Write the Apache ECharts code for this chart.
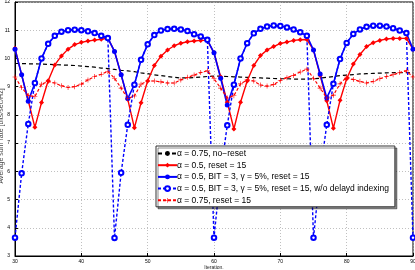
<!DOCTYPE html>
<html>
<head>
<meta charset="utf-8">
<script src="https://cdn.jsdelivr.net/npm/echarts@6/dist/echarts.min.js"></script>
<style>
html,body{margin:0;padding:0;background:#fff;}
#c{width:415px;height:270px;}
</style>
</head>
<body>
<div id="c"></div>
<script>
var iterations = [30,31,32,33,34,35,36,37,38,39,40,41,42,43,44,45,46,47,48,49,50,51,52,53,54,55,56,57,58,59,60,61,62,63,64,65,66,67,68,69,70,71,72,73,74,75,76,77,78,79,80,81,82,83,84,85,86,87,88,89,90];

var noReset = [9.82,9.82,9.81,9.81,9.80,9.79,9.78,9.77,9.76,9.75,9.73,9.71,9.69,9.66,9.64,9.61,9.58,9.56,9.53,9.49,9.46,9.42,9.39,9.36,9.33,9.31,9.31,9.32,9.34,9.36,9.37,9.37,9.36,9.35,9.34,9.33,9.32,9.31,9.30,9.29,9.28,9.28,9.27,9.27,9.27,9.28,9.30,9.33,9.36,9.39,9.41,9.43,9.45,9.46,9.47,9.48,9.49,9.50,9.50,9.50,9.50];

var reset15 = [10.36,9.42,8.50,7.56,8.44,9.21,9.77,10.09,10.33,10.49,10.57,10.62,10.65,10.68,10.72,
  10.25,9.42,8.55,7.54,8.43,9.20,9.75,10.08,10.30,10.45,10.54,10.59,10.62,10.64,10.64,
  10.20,9.35,8.45,7.50,8.45,9.20,9.75,10.10,10.30,10.42,10.53,10.58,10.64,10.66,10.67,
  10.30,9.40,8.50,7.53,8.52,9.28,9.80,10.14,10.42,10.56,10.64,10.69,10.71,10.71,10.71,
  10.33];

var bit3 = [10.33,9.42,8.48,9.13,10.00,10.52,10.80,10.95,11.00,11.02,11.00,10.96,10.90,10.80,10.72,
  10.25,9.42,8.58,9.07,9.95,10.50,10.83,10.99,11.04,11.05,11.03,10.97,10.86,10.78,10.66,
  10.20,9.30,8.35,9.07,10.00,10.54,10.89,11.05,11.13,11.17,11.15,11.10,11.03,10.93,10.80,
  10.30,9.45,8.60,9.10,9.98,10.55,10.87,11.03,11.12,11.16,11.16,11.13,11.07,10.99,10.90,
  10.33];

var bit3NoDelay = [3.65,5.93,7.68,9.13,10.00,10.52,10.80,10.95,11.00,11.02,11.00,10.96,10.90,10.80,10.72,
  3.64,5.95,7.65,9.07,9.95,10.50,10.83,10.99,11.04,11.05,11.03,10.97,10.86,10.78,10.66,
  3.65,5.95,7.63,9.07,10.00,10.54,10.89,11.05,11.13,11.17,11.15,11.10,11.03,10.93,10.80,
  3.65,5.95,7.65,9.10,9.98,10.55,10.87,11.03,11.12,11.16,11.16,11.13,11.07,10.99,10.90,
  3.65];

var reset15a75 = [9.34,8.97,8.69,8.65,9.09,9.18,9.13,9.03,8.97,9.00,9.09,9.24,9.36,9.44,9.54,
  9.30,8.95,8.58,8.67,9.09,9.20,9.20,9.17,9.13,9.13,9.24,9.33,9.41,9.50,9.56,
  9.28,8.95,8.60,8.68,9.10,9.24,9.20,9.06,9.02,9.08,9.22,9.32,9.40,9.52,9.62,
  9.30,8.95,8.60,8.70,9.10,9.34,9.25,9.19,9.13,9.19,9.28,9.36,9.42,9.50,9.56,
  9.34];

var seriesNames = [
  'α = 0.75, no−reset',
  'α = 0.5, reset = 15',
  'α = 0.5, BIT = 3, γ = 5%, reset = 15',
  'α = 0.5, BIT = 3, γ = 5%, reset = 15, w/o delayd indexing',
  'α = 0.75, reset = 15'
];

function pairs(vals){ return iterations.map(function(x,i){ return [x, vals[i]]; }); }

var plusPath = 'path://M0,4.4L10,4.4L10,5.6L0,5.6Z M4.4,0L5.6,0L5.6,10L4.4,10Z';

var chart = echarts.init(document.getElementById('c'), null, {renderer:'canvas'});
var F = 'Liberation Sans, Arial, Helvetica, sans-serif';
chart.setOption({
  animation:false,
  backgroundColor:'#fff',
  grid:{left:15,right:2,top:2,bottom:14,containLabel:false,outerBoundsMode:'none',show:true,borderColor:'#000',borderWidth:1,backgroundColor:'transparent'},
  xAxis:{
    type:'value',min:30,max:90,interval:10,
    name:'Iteration.',nameLocation:'middle',nameGap:9,nameMoveOverlap:false,
    nameTextStyle:{fontSize:5,fontFamily:F,color:'#222'},
    axisLine:{show:true,onZero:false,lineStyle:{color:'#000',width:1}},
    axisTick:{show:true,inside:true,length:3,lineStyle:{color:'#000'}},
    axisLabel:{fontSize:5,fontFamily:F,color:'#000',margin:3},
    splitLine:{show:true,lineStyle:{color:'#b0b0b0',type:[1,2],width:0.8}}
  },
  yAxis:{
    type:'value',min:3,max:12,interval:1,
    name:'Average sum rate [bits/sec/Hz]',nameLocation:'middle',nameGap:10,nameMoveOverlap:false,
    nameTextStyle:{fontSize:7,fontFamily:F,color:'#444',padding:[0,14,0,0]},
    axisLine:{show:true,onZero:false,lineStyle:{color:'#000',width:1}},
    axisTick:{show:true,inside:true,length:3,lineStyle:{color:'#000'}},
    axisLabel:{fontSize:5,fontFamily:F,color:'#000',margin:5},
    splitLine:{show:true,lineStyle:{color:'#b0b0b0',type:[1,2],width:0.8}}
  },
  legend:{
    orient:'vertical',left:156,top:146,
    padding:[3,6,2,1],itemGap:2.7,itemWidth:19,itemHeight:6,
    backgroundColor:'#fff',borderColor:'#333',borderWidth:1,
    shadowColor:'rgba(0,0,0,0.45)',shadowOffsetX:2,shadowOffsetY:2,shadowBlur:0,
    textStyle:{fontSize:8.5,fontFamily:F,color:'#000',padding:[0,0,0,-5]},
    data:seriesNames
  },
  series:[
    {name:seriesNames[0],type:'line',data:pairs(noReset),showSymbol:false,symbol:'none',
      lineStyle:{color:'#000',width:1.2,type:[4,3]},itemStyle:{color:'#000'}},
    {name:seriesNames[1],type:'line',data:pairs(reset15),symbol:'diamond',symbolSize:5,
      lineStyle:{color:'#ff0000',width:1.4},itemStyle:{color:'#ff0000'}},
    {name:seriesNames[2],type:'line',data:pairs(bit3),symbol:'circle',symbolSize:5,
      lineStyle:{color:'#0000ff',width:1.6},itemStyle:{color:'#0000ff'}},
    {name:seriesNames[3],type:'line',data:pairs(bit3NoDelay),symbol:'emptyCircle',symbolSize:4.5,
      lineStyle:{color:'#0000ff',width:1.4,type:[3,2]},itemStyle:{color:'#0000ff',borderWidth:1.2}},
    {name:seriesNames[4],type:'line',data:pairs(reset15a75),symbol:plusPath,symbolSize:5,
      lineStyle:{color:'#ff0000',width:1.2,type:[3,2]},itemStyle:{color:'#ff0000'}}
  ]
});
</script>
</body>
</html>
